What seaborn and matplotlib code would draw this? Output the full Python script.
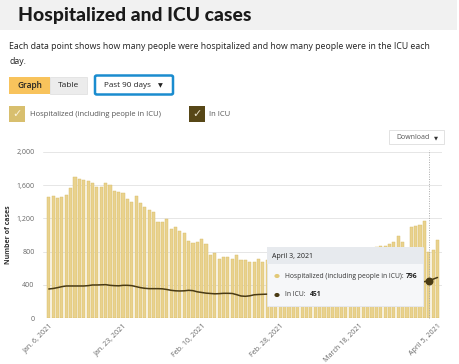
import numpy as np
import pandas as pd
import matplotlib
matplotlib.use("Agg")
import matplotlib.pyplot as plt
from matplotlib.patches import FancyBboxPatch, Rectangle, Circle
import seaborn as sns

# ---------------- data ----------------
days = pd.date_range("2021-01-06", "2021-04-05", freq="D")
hospitalized = [
    1456, 1464, 1444, 1452, 1480, 1560, 1700, 1672, 1656, 1648,
    1628, 1572, 1572, 1628, 1600, 1532, 1520, 1500, 1436, 1400,
    1464, 1380, 1340, 1300, 1276, 1160, 1158, 1190, 1068, 1100,
    1050, 1020, 930, 904, 912, 950, 890, 765, 785, 706,
    730, 730, 710, 755, 700, 695, 670, 670, 715, 680,
    700, 690, 680, 700, 690, 675, 665, 680, 672, 660,
    680, 700, 690, 685, 705, 720, 745, 760, 755, 748,
    765, 800, 820, 835, 848, 850, 862, 866, 888, 912,
    988, 920, 845, 1092, 1112, 1120, 1168, 796, 818, 945,
]
in_icu = [
    352, 358, 368, 380, 388, 388, 388, 388, 388, 392,
    400, 400, 402, 404, 396, 392, 390, 396, 396, 392,
    380, 368, 360, 356, 356, 356, 354, 346, 336, 330,
    328, 330, 336, 332, 318, 310, 302, 298, 294, 296,
    300, 300, 298, 284, 268, 264, 270, 282, 286, 288,
    290, 288, 285, 284, 282, 280, 283, 281, 286, 290,
    288, 285, 292, 298, 296, 300, 305, 310, 318, 326,
    331, 338, 345, 350, 360, 366, 372, 380, 388, 397,
    402, 410, 418, 421, 428, 433, 440, 451, 470, 490,
]
tick_idx = [0, 17, 35, 53, 71, 89]
tick_labels = ["Jan. 6, 2021", "Jan. 23, 2021", "Feb. 10, 2021",
               "Feb. 28, 2021", "March 18, 2021", "April 5, 2021"]
y_ticks = [0, 400, 800, 1200, 1600, 2000]
y_tick_labels = ["0", "400", "800", "1,200", "1,600", "2,000"]
hover_idx = 87
hover_label = "April 3, 2021"

df = pd.DataFrame({"day": np.arange(len(days)), "hosp": hospitalized, "icu": in_icu})

# ---------------- style ----------------
sns.set_theme(style="white")
plt.rcParams["font.family"] = ["Open Sans", "DejaVu Sans"]

W, H = 460, 364
fig = plt.figure(figsize=(W / 100, H / 100), dpi=100)
fig.patch.set_facecolor("white")


def fx(px):
    return px / W


def fy(py):
    return 1 - py / H


def text(px, py, s, **kw):
    fig.text(fx(px), fy(py), s, transform=fig.transFigure, **kw)


def box(x0, y0, x1, y1, fc, ec="none", lw=0, r=0.0, z=1):
    if r > 0:
        p = FancyBboxPatch((fx(x0), fy(y1)), fx(x1) - fx(x0), fy(y0) - fy(y1),
                           boxstyle=f"round,pad=0,rounding_size={r}",
                           transform=fig.transFigure, fc=fc, ec=ec, lw=lw, zorder=z)
    else:
        p = Rectangle((fx(x0), fy(y1)), fx(x1) - fx(x0), fy(y0) - fy(y1),
                      transform=fig.transFigure, fc=fc, ec=ec, lw=lw, zorder=z)
    fig.patches.append(p)


# header banner
box(0, 0, 457, 30, "#f1f1f1")
text(18, 15.5, "Hospitalized and ICU cases", fontsize=13.9, fontweight="black",
     color="#1a1a1a", va="center", ha="left", family=["Lato", "DejaVu Sans"])

text(9, 46.5, "Each data point shows how many people were hospitalized and how many people were in the ICU each",
     fontsize=6.35, color="#222222", va="center")
text(9, 61, "day.", fontsize=6.35, color="#222222", va="center")

# buttons
box(9, 77, 50, 94, "#f8c35c")
box(50, 77, 87, 94, "#ececec", ec="#dddddd", lw=0.5)
text(29.5, 85.5, "Graph", fontsize=6.0, fontweight="semibold", color="#222222", ha="center", va="center")
text(68.5, 85.5, "Table", fontsize=6.0, color="#222222", ha="center", va="center")
box(95, 75.5, 173, 94.5, "white", ec="#1a8ccf", lw=1.8, r=0.004)
text(104, 85.5, "Past 90 days", fontsize=5.9, color="#222222", va="center")
text(160, 85.5, "\u25BC", fontsize=4.5, color="#222222", va="center", ha="center",
     family=["DejaVu Sans"])

# legend checkboxes
box(9, 106, 25, 122, "#d8bf6e")
text(17, 114.5, "\u2713", fontsize=8, color="#fbf3da", ha="center", va="center", family=["DejaVu Sans"])
text(30, 114.5, "Hospitalized (including people in ICU)", fontsize=5.5, color="#555555", va="center")
box(189, 106, 205, 122, "#574717")
text(197, 114.5, "\u2713", fontsize=8, color="#e8e0c8", ha="center", va="center", family=["DejaVu Sans"])
text(209, 114.5, "In ICU", fontsize=5.5, color="#555555", va="center")

# download button
box(389, 130, 444, 144, "white", ec="#dddddd", lw=0.6)
text(396, 137.5, "Download", fontsize=5.0, color="#555555", va="center")
text(436, 137.5, "\u25BC", fontsize=3.8, color="#333333", va="center", ha="center",
     family=["DejaVu Sans"])

# ---------------- chart ----------------
ax_left, ax_right, ax_top, ax_bottom = 43, 441.7, 151.7, 318.3
ax_w_px = ax_right - ax_left
ax = fig.add_axes([fx(ax_left), fy(ax_bottom), ax_w_px / W,
                   (ax_bottom - ax_top) / H])
ax.set_facecolor("white")

sns.barplot(data=df, x="day", y="hosp", ax=ax, color="#e9d28e", width=0.72,
            edgecolor="#d7bb64", linewidth=0.3, saturation=1, zorder=2)
sns.lineplot(data=df, x="day", y="icu", ax=ax, color="#4a3b14", linewidth=1.1, zorder=3)

ax.set_xlim(-1.33, 89.96)
ax.set_ylim(0, 2000)
ax.set_yticks(y_ticks)
ax.set_yticklabels(y_tick_labels, fontsize=5.0, color="#666666")
ax.set_xticks(tick_idx)
ax.set_xticklabels(tick_labels, rotation=45, ha="right", rotation_mode="anchor",
                   fontsize=5.1, color="#666666")
ax.tick_params(axis="y", length=0, pad=6)
ax.tick_params(axis="x", length=0, pad=3)
ax.grid(axis="y", color="#e6e6e6", linewidth=0.7, zorder=0)
ax.set_axisbelow(True)
for s in ax.spines.values():
    s.set_visible(False)
ax.set_xlabel("")
ax.set_ylabel("Number of cases", fontsize=5.0, fontweight="bold", color="#333333")
ax.yaxis.set_label_coords(-(ax_left - 12.5) / ax_w_px, 0.5)

# hover line and marker
ax.axvline(hover_idx, color="#aaaaaa", linestyle=(0, (1, 1.5)), linewidth=0.7, zorder=4,
           ymin=0, ymax=1.01, clip_on=False)
ax.scatter([hover_idx], [in_icu[hover_idx]], s=22, color="#4a3b14", zorder=6)

# tooltip
box(268, 248, 424, 307, "#e9eaec", z=9)  # soft shadow
box(267, 247, 423, 306, "#f6f7f9", ec="#e2e4e8", lw=0.5, z=10)
box(267, 247, 423, 264, "#e7eaee", z=11)
text(272, 256, hover_label, fontsize=5.0, color="#222222", va="center", zorder=12)
fig.patches.append(Circle((fx(277), fy(276)), 2.6 / W, transform=fig.transFigure,
                          fc="#e2c978", ec="none", zorder=12))
text(285, 276, "Hospitalized (including people in ICU):", fontsize=4.9, color="#333333",
     va="center", zorder=12)
text(406, 276, str(hospitalized[hover_idx]), fontsize=4.9, fontweight="bold",
     color="#222222", va="center", ha="left", zorder=12)
fig.patches.append(Circle((fx(277), fy(295)), 2.6 / W, transform=fig.transFigure,
                          fc="#4a3b14", ec="none", zorder=12))
text(285, 295, "In ICU:", fontsize=4.9, color="#333333", va="center", zorder=12)
text(310, 295, str(in_icu[hover_idx]), fontsize=4.9, fontweight="bold",
     color="#222222", va="center", zorder=12)

fig.savefig("out.png", dpi=100, facecolor="white")
